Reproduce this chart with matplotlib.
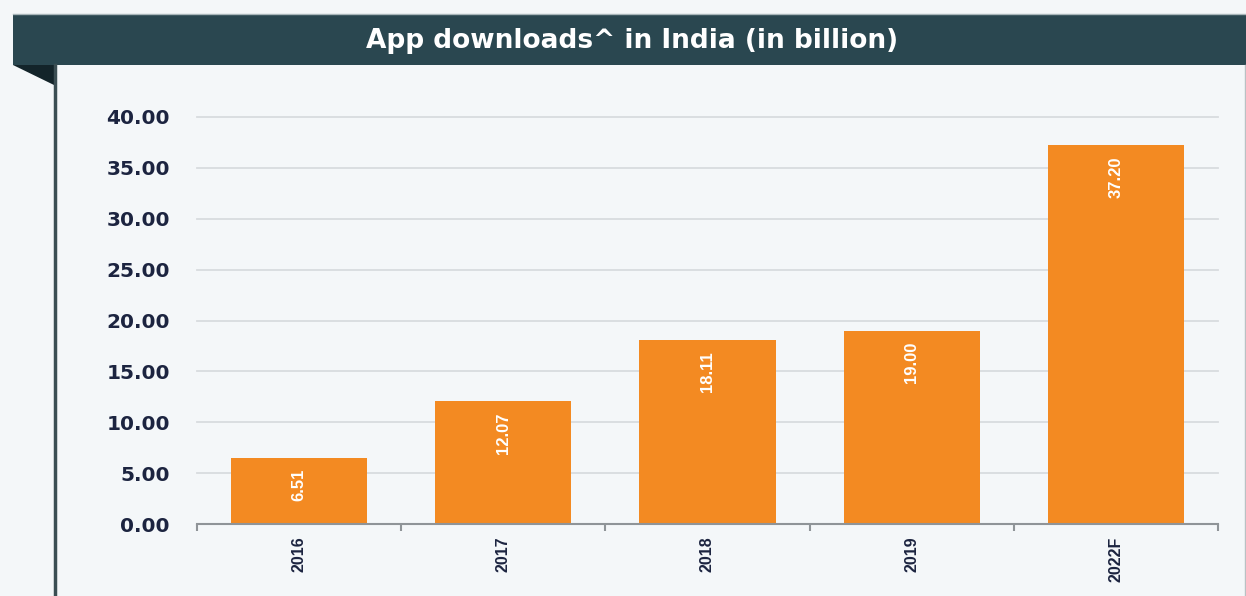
import matplotlib
matplotlib.use("Agg")
import matplotlib.pyplot as plt
from matplotlib.patches import Rectangle, Polygon
from matplotlib.lines import Line2D

# Data
categories = ["2016", "2017", "2018", "2019", "2022F"]
downloads = [6.51, 12.07, 18.11, 19.00, 37.20]
value_labels = ["6.51", "12.07", "18.11", "19.00", "37.20"]
y_ticks = [0, 5, 10, 15, 20, 25, 30, 35, 40]
title = "App downloads^ in India (in billion)"

W, H = 1246, 596
BG = "#f4f7f9"
HEADER = "#2a4750"
FOLD = "#13242a"
ORANGE = "#f38a22"
TEXT = "#1c2440"

fig = plt.figure(figsize=(W / 100, H / 100), dpi=100, facecolor=BG)

def fx(x):
    return x / W

def fy(y):
    return 1 - y / H

# Header bar
fig.patches.append(Rectangle((fx(13), fy(65)), fx(W - 13), (65 - 14) / H,
                             transform=fig.transFigure, facecolor=HEADER,
                             edgecolor="none", zorder=0))
fig.lines.append(Line2D([fx(13), 1], [fy(14), fy(14)], transform=fig.transFigure,
                        color="#a9b6ba", lw=1.0))
# Fold triangle
fig.patches.append(Polygon([(fx(13), fy(65)), (fx(54), fy(65)), (fx(54), fy(85))],
                           closed=True, transform=fig.transFigure,
                           facecolor=FOLD, edgecolor="none"))
# Left vertical border
fig.lines.append(Line2D([fx(54.5), fx(54.5)], [fy(65), 0], transform=fig.transFigure,
                        color="#3b4e53", lw=2.5))
# Right border
fig.lines.append(Line2D([fx(1244.5), fx(1244.5)], [fy(65), 0], transform=fig.transFigure,
                        color="#b9c1c4", lw=1.0))

fig.text(fx(632), fy(41), title, color="white", fontsize=19, fontweight="bold",
         family="DejaVu Sans", ha="center", va="center")

ax = fig.add_axes([fx(197), fy(524), fx(1218 - 197), (524 - 117) / H])
ax.set_facecolor(BG)
x = list(range(len(categories)))
ax.bar(x, downloads, width=0.667, color=ORANGE, zorder=2)
ax.set_xlim(-0.5, len(categories) - 0.5)
ax.set_ylim(0, 40)
ax.set_yticks(y_ticks)
ax.set_yticklabels([f"{v:.2f}" for v in y_ticks])
ax.yaxis.grid(True, color="#d8dcdf", lw=1.3, zorder=0)
for gl in ax.get_ygridlines():
    gl.set_clip_on(False)
ax.set_axisbelow(True)
ax.tick_params(axis="y", length=0, pad=19.5, labelsize=14.5, labelcolor=TEXT)
for lbl in ax.get_yticklabels():
    lbl.set_fontweight("bold")
    lbl.set_family("DejaVu Sans")

ax.set_xticks(x)
ax.set_xticklabels(categories, rotation=90, fontsize=11.5, color=TEXT,
                   family="Liberation Sans", fontweight="bold")
ax.tick_params(axis="x", length=0, pad=9)
ax.set_xticks([i - 0.5 for i in range(len(categories) + 1)], minor=True)
ax.tick_params(axis="x", which="minor", length=5, width=1.5, color="#8f9498", direction="out")

for s in ["left", "right", "top"]:
    ax.spines[s].set_visible(False)
ax.spines["bottom"].set_color("#8f9498")
ax.spines["bottom"].set_linewidth(1.5)

for xi, v, t in zip(x, downloads, value_labels):
    ax.annotate(t, (xi, v), xytext=(0, -8), textcoords="offset points",
                rotation=90, ha="center", va="top", color="white",
                fontsize=12, family="Liberation Sans", fontweight="bold", zorder=3)

fig.savefig("out.png", dpi=100, facecolor=BG)
